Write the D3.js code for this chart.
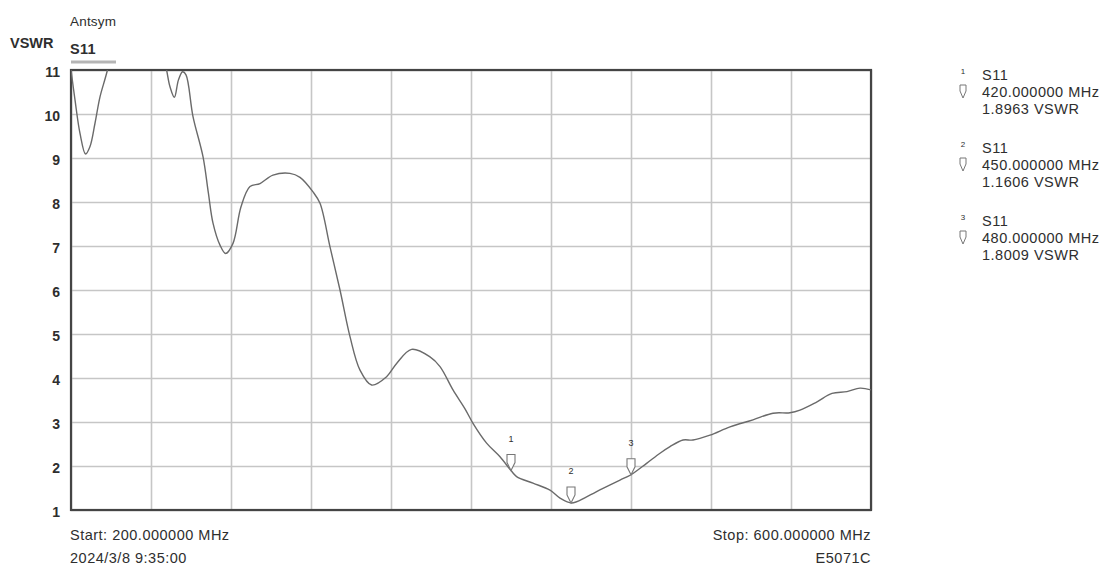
<!DOCTYPE html>
<html>
<head>
<meta charset="utf-8">
<script src="https://cdn.jsdelivr.net/npm/d3@7"></script>
<style>
  body { margin: 0; background: #fff; }
  text { font-family: "Liberation Sans", Arial, sans-serif; fill: #2e2e2e; }
</style>
</head>
<body>
<script>
// trace data (MHz, VSWR)
var freqs = [200, 202, 204.5, 207.3, 209.5, 212, 214.5, 218, 222, 230, 238, 245, 247.8, 249.5, 251.7, 253.7, 255.8, 257.5,
  261, 266, 268.7, 271, 274.5, 277.3, 281, 285, 289.5, 294.5, 301, 309.5, 314.5, 321, 324.5, 329.5, 334.5, 339.5, 344.5,
  350.3, 357.8, 362.8, 370.3, 379.5, 384.5, 391, 397, 401, 407.8, 414.5, 420, 422.8, 431, 439.5, 444.5, 450.3, 457.8,
  466, 474.5, 480, 487.8, 494.5, 499.5, 506, 511, 519.5, 529.5, 541, 551, 559.5, 564.5, 573, 580.5, 588, 594.5, 600];
var vswr = [11.0, 10.32, 9.56, 9.09, 9.26, 9.79, 10.39, 10.96, 11.8, 12.6, 12.4, 11.6, 11.0, 10.62, 10.38, 10.77, 10.96, 10.89,
  9.94, 9.03, 8.2, 7.52, 7.02, 6.83, 7.06, 7.89, 8.35, 8.42, 8.61, 8.65, 8.56, 8.23, 7.97, 6.98, 6.0, 4.94, 4.18,
  3.84, 4.03, 4.33, 4.65, 4.48, 4.26, 3.73, 3.3, 2.97, 2.52, 2.21, 1.8963, 1.76, 1.61, 1.45, 1.27, 1.1606, 1.30,
  1.49, 1.68, 1.8009, 2.06, 2.29, 2.44, 2.59, 2.59, 2.70, 2.89, 3.05, 3.20, 3.21, 3.27, 3.46, 3.65, 3.69, 3.77, 3.73];

var yTicks = [1, 2, 3, 4, 5, 6, 7, 8, 9, 10, 11];
var xTicks = [200, 240, 280, 320, 360, 400, 440, 480, 520, 560, 600];

var markerIds = [1, 2, 3];
var markerFreqs = [420, 450, 480];
var markerVals = [1.8963, 1.1606, 1.8009];

var data = [];
for (var i = 0; i < freqs.length; i++) {
  data.push({x: freqs[i], y: vswr[i]});
}

function label(svg, x, y, str, opts) {
  opts = opts || {};
  return svg.append("text")
    .attr("x", x).attr("y", y)
    .attr("font-size", opts.size || 14.5)
    .attr("font-weight", opts.bold ? "bold" : "normal")
    .attr("letter-spacing", opts.ls === undefined ? 0.5 : opts.ls)
    .attr("text-anchor", opts.anchor || "start")
    .text(str);
}

function draw_chart() {
  var W = 1106, H = 567;
  var left = 71, top = 70, w = 800, h = 440;

  var svg = d3.select("body").append("svg")
    .attr("width", W)
    .attr("height", H);

  var xScale = d3.scaleLinear().domain([200, 600]).range([left, left + w]);
  var yScale = d3.scaleLinear().domain([1, 11]).range([top + h, top]);

  // grid
  var gx = svg.append("g")
    .attr("transform", "translate(0," + (top + h) + ")")
    .call(d3.axisBottom(xScale).tickValues(xTicks).tickSize(-h).tickFormat(""));
  gx.select(".domain").remove();
  gx.selectAll("line").attr("stroke", "#c6c6c6").attr("stroke-width", 1.6);

  var gy = svg.append("g")
    .attr("transform", "translate(" + left + ",0)")
    .call(d3.axisLeft(yScale).tickValues(yTicks).tickSize(-w).tickPadding(11).tickFormat(d3.format("d")));
  gy.select(".domain").remove();
  gy.selectAll("line").attr("stroke", "#c6c6c6").attr("stroke-width", 1.6);
  gy.selectAll("text")
    .attr("dy", "0.45em")
    .attr("font-size", 14)
    .attr("font-weight", "bold")
    .attr("fill", "#3a3a3a")
    .style("font-family", "'Liberation Sans', Arial, sans-serif");

  // frame
  svg.append("rect")
    .attr("x", left).attr("y", top)
    .attr("width", w).attr("height", h)
    .attr("fill", "none")
    .attr("stroke", "#444")
    .attr("stroke-width", 2.2);

  // trace
  svg.append("clipPath").attr("id", "clip")
    .append("rect").attr("x", left).attr("y", top).attr("width", w).attr("height", h);

  var line = d3.line()
    .x(function(d) { return xScale(d.x); })
    .y(function(d) { return yScale(d.y); })
    .curve(d3.curveCatmullRom.alpha(0.5));

  svg.append("path")
    .datum(data)
    .attr("clip-path", "url(#clip)")
    .attr("d", line)
    .attr("fill", "none")
    .attr("stroke", "#6a6a6a")
    .attr("stroke-width", 1.4);

  // markers on trace
  var mk = svg.append("g").selectAll("g")
    .data(markerIds)
    .enter().append("g")
    .attr("transform", function(d, i) {
      return "translate(" + xScale(markerFreqs[i]) + "," + yScale(markerVals[i]) + ")";
    });
  mk.append("path")
    .attr("d", "M0,0 L-4,-8 L-4,-16 L4,-16 L4,-8 Z")
    .attr("fill", "#fff")
    .attr("stroke", "#777")
    .attr("stroke-width", 1.1);
  mk.append("text")
    .attr("x", 0).attr("y", -29)
    .attr("text-anchor", "middle")
    .attr("font-size", 9)
    .attr("fill", "#5a4a3a")
    .text(function(d) { return d; });

  // header labels
  label(svg, 10, 48, "VSWR", {bold: true, ls: 0});
  label(svg, 70, 25.5, "Antsym", {size: 13.5, ls: 0.2});
  label(svg, 70, 54, "S11", {bold: true, ls: 0.3});
  svg.append("line")
    .attr("x1", 71).attr("x2", 116).attr("y1", 62).attr("y2", 62)
    .attr("stroke", "#b5b5b5").attr("stroke-width", 3);

  // footer
  label(svg, 70, 540, "Start: 200.000000 MHz");
  label(svg, 70, 563, "2024/3/8 9:35:00");
  label(svg, 871, 540, "Stop: 600.000000 MHz", {anchor: "end"});
  label(svg, 871, 563, "E5071C", {anchor: "end"});

  // marker table
  var lg = svg.append("g").selectAll("g")
    .data(markerIds)
    .enter().append("g")
    .attr("transform", function(d, i) { return "translate(960," + (i * 73) + ")"; });
  lg.append("text").attr("x", 3).attr("y", 74).attr("font-size", 8).attr("text-anchor", "middle").attr("fill", "#555")
    .text(function(d) { return d; });
  lg.append("text").attr("x", 22).attr("y", 80).attr("font-size", 14.5).attr("letter-spacing", 0.5).text("S11");
  lg.append("path")
    .attr("d", "M3,98 L0,91 L0,85 L6,85 L6,91 Z")
    .attr("fill", "#fff").attr("stroke", "#777").attr("stroke-width", 1);
  lg.append("text").attr("x", 22).attr("y", 97).attr("font-size", 14.5).attr("letter-spacing", 0.5)
    .text(function(d, i) { return markerFreqs[i].toFixed(6) + " MHz"; });
  lg.append("text").attr("x", 22).attr("y", 114).attr("font-size", 14.5).attr("letter-spacing", 0.5)
    .text(function(d, i) { return markerVals[i].toFixed(4) + " VSWR"; });
}

draw_chart();
</script>
</body>
</html>
